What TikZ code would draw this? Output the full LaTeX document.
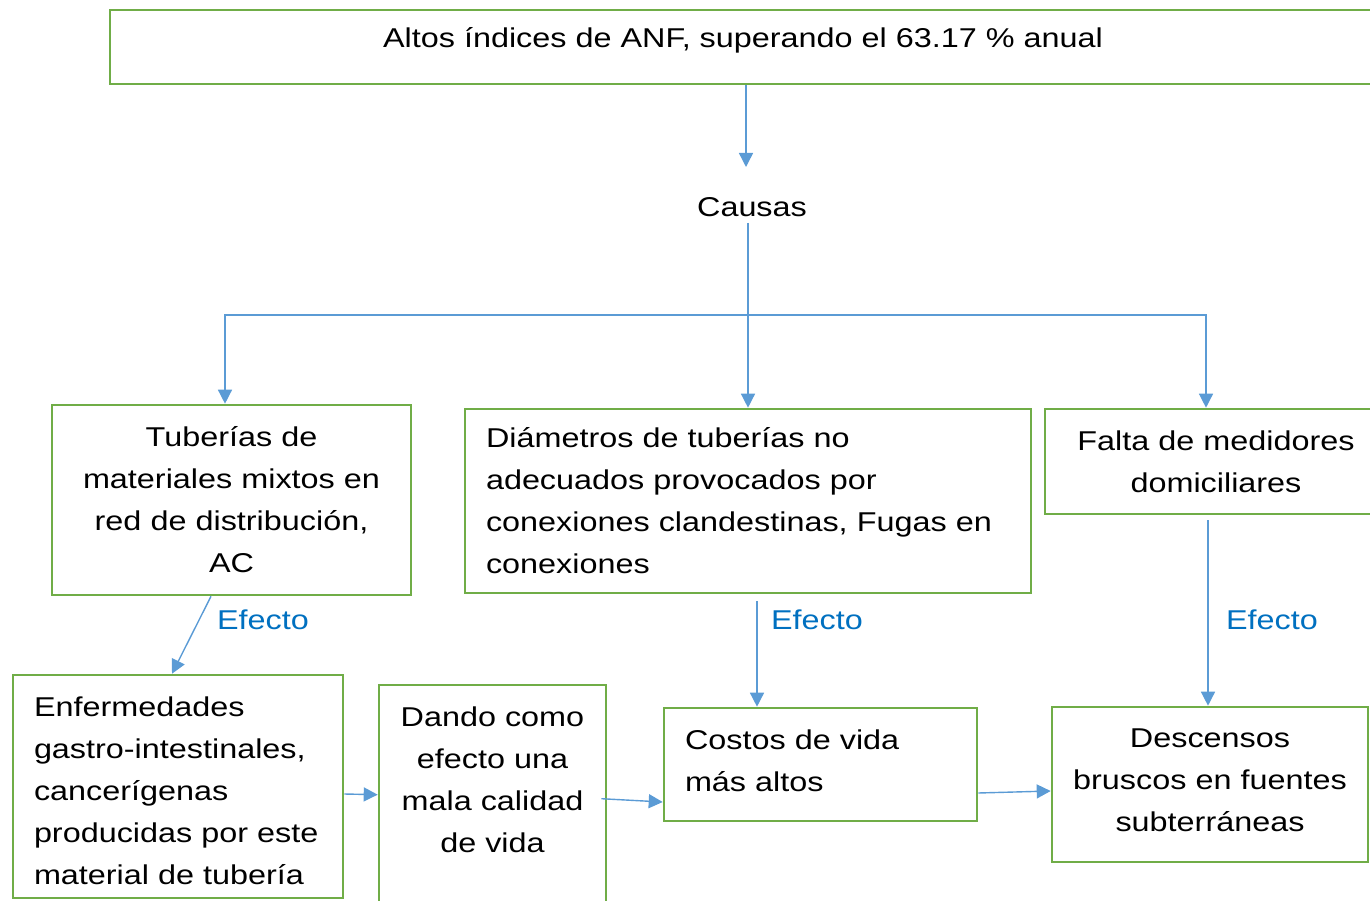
\documentclass[tikz,border=0pt]{standalone}
\usepackage{fontspec}
\setmainfont{Liberation Sans}[FakeStretch=1.19]
\usetikzlibrary{arrows.meta}
\definecolor{boxgreen}{HTML}{70AD47}
\definecolor{arrblue}{HTML}{5B9BD5}
\definecolor{efblue}{HTML}{0070C0}
\tikzset{
  box/.style={draw=boxgreen, line width=2.6pt, rectangle, inner ysep=0pt,
    font=\fontsize{27.2}{42}\selectfont},
  cbox/.style={box, align=center, inner xsep=21pt},
  lbox/.style={box, align=left, inner xsep=21pt},
  plain/.style={inner sep=0pt, font=\fontsize{27.2}{42}\selectfont},
  eff/.style={plain, text=efblue},
  arr/.style={draw=arrblue, line width=1.4pt, -{Triangle[length=14pt,width=14pt]}},
  ln/.style={draw=arrblue, line width=1.4pt}
}
\begin{document}
\begin{tikzpicture}[x=1pt,y=-1pt]
\useasboundingbox (0,0) rectangle (1370,901);
\clip (0,0) rectangle (1370,901);

\node[box, minimum width=1266pt, minimum height=74pt, text height=19pt, text depth=17pt] (top) at (743,47)
  {Altos índices de ANF, superando el 63.17 \% anual};
\node[plain, inner ysep=6pt] (causas) at (752,207) {Causas};
\coordinate (cin) at (746,167);
\coordinate (split) at (748,315);

\node[cbox, text width=317pt, minimum height=190pt] (b1) at (231.5,500)
  {Tuberías de\\materiales mixtos en\\red de distribución,\\AC};
\node[lbox, text width=524pt, minimum height=184pt] (b2) at (748,501)
  {Diámetros de tuberías no\\adecuados provocados por\\conexiones clandestinas, Fugas en\\conexiones};
\node[cbox, text width=300pt, minimum height=105pt] (b3) at (1216,461.5)
  {Falta de medidores\\domiciliares};

\node[lbox, text width=288pt, minimum height=223pt, text depth=160pt] (b4) at (178,786.5)
  {Enfermedades\\gastro-intestinales,\\cancerígenas\\producidas por este\\material de tubería};
\node[box, minimum width=227pt, minimum height=255pt] (b5) at (492.5,812.5) {};
\node[plain, align=center] (b5t) at (492.5,780)
  {Dando como\\efecto una\\mala calidad\\de vida};
\node[lbox, text width=271pt, minimum height=113pt, text depth=50pt] (b6) at (820.5,764.5)
  {Costos de vida\\más altos};
\node[cbox, text width=274pt, minimum height=155pt, text depth=92pt] (b7) at (1210,784.5)
  {Descensos\\bruscos en fuentes\\subterráneas};

\node[eff] (e1) at (263,620) {Efecto};
\node[eff] (e2) at (817,620) {Efecto};
\node[eff] (e3) at (1272,620) {Efecto};

\draw[arr] ([xshift=3pt]top.south) -- (cin);
\draw[arr] ([xshift=-4pt]causas.south) -- (b2.north);
\draw[arr] (split) -| ([xshift=-6.5pt]b1.north);
\draw[arr] (split) -| ([xshift=-10pt]b3.north);

\draw[arr] ([xshift=-20.5pt]b1.south) -- ([xshift=-6pt]b4.north);
\draw[arr] ([shift={(9,7)}]b2.south) -- ([xshift=-63.5pt]b6.north);
\draw[arr] ([shift={(-8,5)}]b3.south) -- ([xshift=-2pt]b7.north);

\draw[arr] ([yshift=-7.5pt]b4.east) -- ([shift={(0,111)}]b5.north west);
\draw[arr] ([shift={(-6,115)}]b5.north east) -- ([yshift=-37.5pt]b6.west);
\draw[arr] ([yshift=-28.5pt]b6.east) -- ([yshift=-6.5pt]b7.west);
\end{tikzpicture}
\end{document}
